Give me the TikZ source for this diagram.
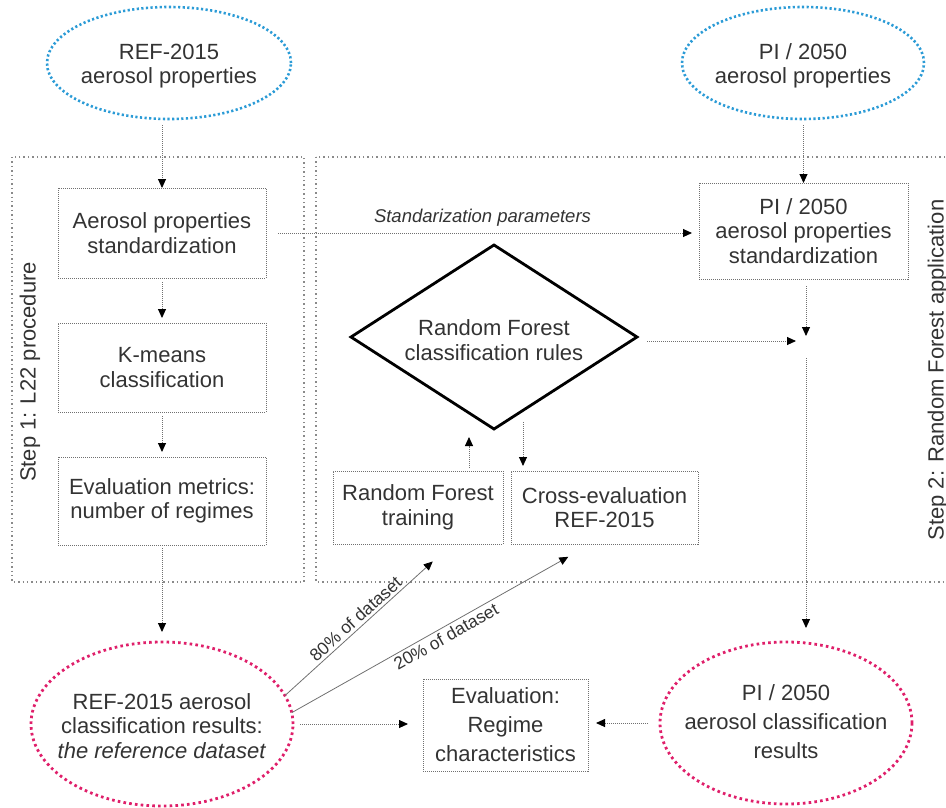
\documentclass[tikz,border=0pt]{standalone}
\usepackage{fontspec}
\setmainfont{Liberation Sans}
\usetikzlibrary{shapes.geometric,arrows.meta}
\definecolor{txt}{HTML}{333333}
\definecolor{blu}{HTML}{2B9BD6}
\definecolor{pnk}{HTML}{DF1F6A}
\definecolor{lin}{HTML}{707070}
\definecolor{frm}{HTML}{8A8A8A}
\begin{document}
\begin{tikzpicture}[x=1pt,y=-1pt,
  every node/.style={text=txt, font=\fontsize{22}{24.5}\selectfont, align=center, inner sep=0pt, outer sep=0pt},
  framebox/.style={draw=frm, line width=1.4pt, dash pattern=on 1.4pt off 3pt},
  procbox/.style={draw=lin, line width=0.9pt, dash pattern=on 1pt off 1pt},
  ellblue/.style={ellipse, draw=blu, line width=2.6pt, dash pattern=on 2.2pt off 2.4pt},
  ellpink/.style={ellipse, draw=pnk, line width=2.8pt, dash pattern=on 2.6pt off 3.2pt},
  arr/.style={draw=lin, line width=0.9pt, dash pattern=on 1pt off 1pt, -{Triangle[length=9pt,width=8pt,color=black]}},
  solidarr/.style={draw=lin, line width=0.8pt, -{Triangle[length=9pt,width=8pt,color=black]}},
  small/.style={font=\fontsize{17.5}{20}\selectfont},
  wide/.style={font=\fontsize{22}{29}\selectfont}
]
\useasboundingbox (0,0) rectangle (946,807);
\begin{scope}
\clip (0,0) rectangle (946,807);
% frames
\draw[framebox] (12,157) rectangle (304,582);
\draw[framebox] (316,157) rectangle (980,582);

% top ellipses
\node[ellblue, minimum width=244pt, minimum height=112pt] (refp) at (169,63) {};
\node (refpt) at (169,66) {REF-2015\\aerosol properties};
\node[ellblue, minimum width=242pt, minimum height=112pt] (pip) at (803,63) {};
\node (pipt) at (803,66) {PI / 2050\\aerosol properties};

% left column boxes
\node[procbox, minimum width=208pt, minimum height=90pt] (box1) at (162,233) {Aerosol properties\\standardization};
\node[procbox, minimum width=208pt, minimum height=89pt] (box2) at (162,367.5) {K-means\\classification};
\node[procbox, minimum width=208pt, minimum height=88pt] (box3) at (162,501) {Evaluation metrics:\\number of regimes};

% right column
\node[procbox, minimum width=209pt, minimum height=96pt] (pistd) at (803.5,231) {PI / 2050\\aerosol properties\\standardization};
\node[diamond, draw=black, line width=2.8pt, minimum width=286pt, minimum height=184pt] (dia) at (494,337) {};
\node (diat) at (494,340) {Random Forest\\classification rules};
\node[procbox, minimum width=170pt, minimum height=73pt] (train) at (418,507.5) {Random Forest\\training};
\node[procbox, minimum width=187pt, minimum height=73pt] (cross) at (604.5,507.5) {Cross-evaluation\\REF-2015};
\coordinate (J) at (806,341);

% bottom
\node[ellpink, minimum width=262pt, minimum height=164pt] (refres) at (162,724) {};
\node (refrest) at (162,726) {REF-2015 aerosol\\classification results:\\\textit{the reference dataset}};
\node[procbox, wide, minimum width=165pt, minimum height=92pt] (eval) at (505.5,725) {Evaluation:\\Regime\\characteristics};
\node[ellpink, minimum width=252pt, minimum height=162pt] (pires) at (786,723) {};
\node[wide] (pirest) at (786,722) {PI / 2050\\aerosol classification\\results};

% step labels
\node[rotate=90] (step1) at (30,372) {Step 1: L22 procedure};
\node[rotate=90] (step2) at (938,370) {Step 2: Random Forest application};

% connectors
\draw[arr, shorten <=6pt] (box1.north |- refp.south) -- (box1.north);
\draw[arr, shorten <=6pt] (pistd.north |- pip.south) -- (pistd.north);
\draw[arr, shorten <=4pt, shorten >=5pt] (box1.south) -- (box2.north);
\draw[arr, shorten <=4pt, shorten >=5pt] (box2.south) -- (box3.north);
\draw[arr, shorten <=3pt, shorten >=10pt] (box3.south) -- (box3.south |- refres.north);
\draw[arr, shorten <=12pt, shorten >=7pt] (box1.east) -- node[above=7pt, font=\fontsize{18.5}{20}\selectfont\itshape] (stdlab) {Standarization parameters} (box1.east -| pistd.west);
\draw[arr, shorten <=7pt, shorten >=5pt] (pistd.south -| J) -- (J);
\draw[arr, shorten <=10pt, shorten >=10pt] (dia.east |- J) -- (J);
\draw[arr, shorten <=17pt, shorten >=14pt] (J) -- (J |- pires.north);
\draw[arr, shorten <=3pt, shorten >=8pt] ([xshift=51pt]train.north) -- ([xshift=51pt]train.north |- dia.south);
\draw[arr, shorten >=5pt] ([xshift=29pt,yshift=7pt]dia.south) -- ([xshift=-81.5pt]cross.north);
\draw[solidarr, shorten >=26pt] (refres.13) -- node[pos=0.46, sloped, above=3pt, small] (lab80) {80\% of dataset} ([xshift=34pt]train.south);
\draw[solidarr, shorten >=26pt] (refres.5) -- node[pos=0.5, sloped, below=3pt, small] (lab20) {20\% of dataset} ([xshift=-13.5pt]cross.south);
\draw[arr, shorten <=7pt, shorten >=15pt] (refres.east) -- (refres.east -| eval.west);
\draw[arr, shorten <=12pt, shorten >=8pt] (pires.west) -- (pires.west -| eval.east);
\end{scope}
\end{tikzpicture}
\end{document}
